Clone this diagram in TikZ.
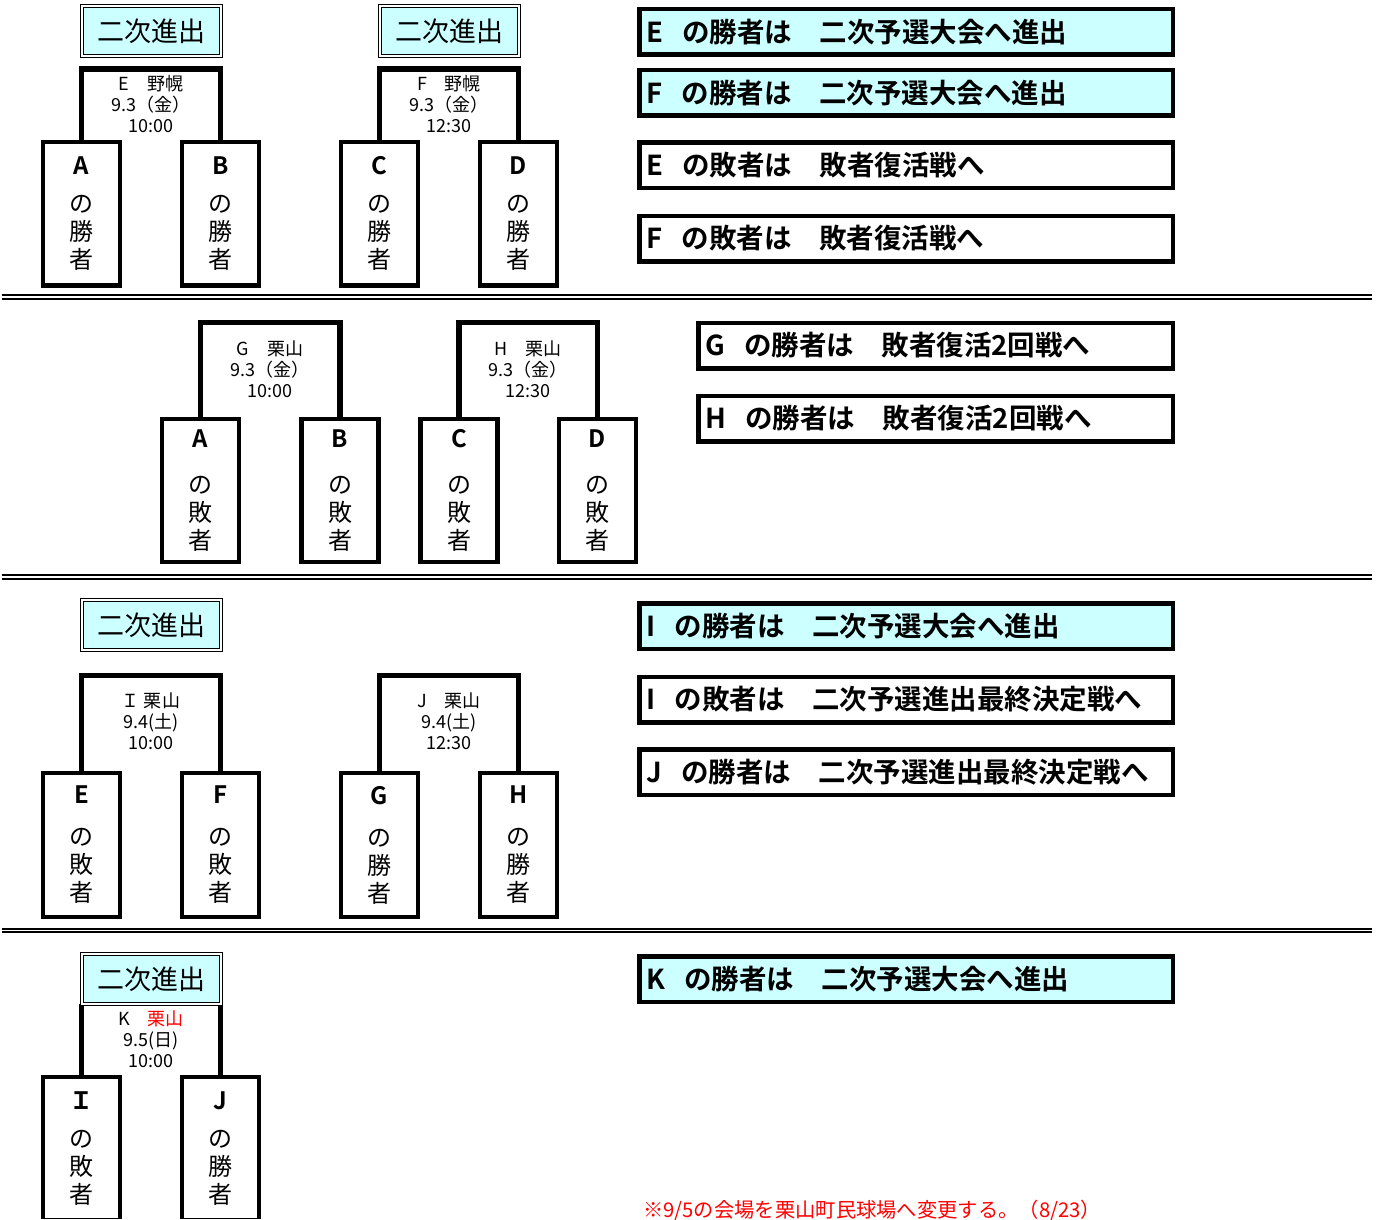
\documentclass[tikz,border=0pt]{standalone}
\usepackage{fontspec}
\setmainfont{Noto Sans CJK JP}[BoldFont={Noto Sans CJK JP Bold}]
\usetikzlibrary{positioning,calc}
\definecolor{lightcyan}{RGB}{204,255,255}

\newcommand{\winner}[2][10pt]{\textbf{#2}\\[#1]の\\勝\\者}
\newcommand{\loser}[2][10pt]{\textbf{#2}\\[#1]の\\敗\\者}
\newcommand{\gapa}{\hspace{0.7em}}
\newcommand{\gapb}{\hspace{1em}}

\begin{document}
\begin{tikzpicture}[x=1pt,y=-1pt,
  adv/.style={draw, line width=1.3pt, double=white, double distance=1.6pt, fill=lightcyan, minimum width=138.8pt, minimum height=49.8pt, inner sep=0pt, font=\fontsize{27}{30}\selectfont},
  team/.style={draw, line width=4.3pt, minimum width=77pt, minimum height=143.5pt, align=center, inner sep=0pt, font=\fontsize{24}{28}\selectfont},
  bracket/.style={line width=5.5pt},
  match/.style={align=center, inner sep=0pt, font=\fontsize{18}{21}\selectfont},
  result/.style={draw, line width=4.5pt, minimum height=45.5pt, anchor=west, inner xsep=7pt, inner ysep=0pt, align=left, text width=#1, font=\bfseries\fontsize{27.5}{30}\selectfont},
  cyanbox/.style={fill=lightcyan},
  sep/.style={line width=2pt}]
    \useasboundingbox (0,0) rectangle (1377,1220);

    % first round: E and F
    \node [adv] (adv1) at (151.5,31) {二次進出};
    \node [adv] (adv2) at (449.5,31) {二次進出};

    \node [team] (A1) at (81.4,213.75) {\winner{A}};
    \node [team] (B1) at (220.4,213.75) {\winner{B}};
    \node [team] (C1) at (379.5,213.75) {\winner{C}};
    \node [team] (D1) at (518.5,213.75) {\winner{D}};

    \coordinate (tE) at (151,69);
    \coordinate (tF) at (449,69);
    \node [match] (mE) at (151,104) {E　野幌\\9.3（金）\\10:00};
    \node [match] (mF) at (449,104) {F　野幌\\9.3（金）\\12:30};

    \draw[bracket] (A1.north) |- (tE) -| (B1.north);
    \draw[bracket] (C1.north) |- (tF) -| (D1.north);

    \node [result=519.5pt, cyanbox] (rE1) at (637,32) {E\gapa の勝者は\gapb 二次予選大会へ進出};
    \node [result=519.5pt, cyanbox] (rF1) at (637,93) {F\gapa の勝者は\gapb 二次予選大会へ進出};
    \node [result=519.5pt] (rE2) at (637,165.5) {E\gapa の敗者は\gapb 敗者復活戦へ};
    \node [result=519.5pt] (rF2) at (637,238.5) {F\gapa の敗者は\gapb 敗者復活戦へ};

    \draw[sep] (2,295) -- (1372,295);
    \draw[sep] (2,298.7) -- (1372,298.7);

    % losers: G and H
    \node [team] (A2) at (200.5,490.5) {\loser[18pt]{A}};
    \node [team] (B2) at (340,490.5) {\loser[18pt]{B}};
    \node [team] (C2) at (459,490.5) {\loser[18pt]{C}};
    \node [team] (D2) at (597.5,490.5) {\loser[18pt]{D}};

    \coordinate (tG) at (270,322.5);
    \coordinate (tH) at (528,322.5);
    \node [match] (mG) at (270,369) {G　栗山\\9.3（金）\\10:00};
    \node [match] (mH) at (528,369) {H　栗山\\9.3（金）\\12:30};

    \draw[bracket] (A2.north) |- (tG) -| (B2.north);
    \draw[bracket] (C2.north) |- (tH) -| (D2.north);

    \node [result=460.5pt] (rG) at (696,345.5) {G\gapa の勝者は\gapb 敗者復活2回戦へ};
    \node [result=460.5pt] (rH) at (696,418.5) {H\gapa の勝者は\gapb 敗者復活2回戦へ};

    \draw[sep] (2,575) -- (1372,575);
    \draw[sep] (2,578.7) -- (1372,578.7);

    % second round: I and J
    \node [adv] (adv3) at (151.5,625) {二次進出};

    \node [team] (E3) at (81.4,845) {\loser[14pt]{E}};
    \node [team] (F3) at (220.4,845) {\loser[14pt]{F}};
    \node [team] (G3) at (379.5,845) {\winner[14pt]{G}};
    \node [team] (H3) at (518.5,845) {\winner[14pt]{H}};

    \coordinate (tI) at (151,675.5);
    \coordinate (tJ) at (449,675.5);
    \node [match] (mI) at (151,721.5) {Ｉ 栗山\\9.4(土)\\10:00};
    \node [match] (mJ) at (449,721.5) {J　栗山\\9.4(土)\\12:30};

    \draw[bracket] (E3.north) |- (tI) -| (F3.north);
    \draw[bracket] (G3.north) |- (tJ) -| (H3.north);

    \node [result=519.5pt, cyanbox] (rI1) at (637,626) {I\gapa の勝者は\gapb 二次予選大会へ進出};
    \node [result=519.5pt] (rI2) at (637,699.5) {I\gapa の敗者は\gapb 二次予選進出最終決定戦へ};
    \node [result=519.5pt] (rJ) at (637,772) {J\gapa の勝者は\gapb 二次予選進出最終決定戦へ};

    \draw[sep] (2,928.7) -- (1372,928.7);
    \draw[sep] (2,932) -- (1372,932);

    % final: K
    \begin{scope}
      \clip (0,0) rectangle (1377,1218);
      \node [team] (I4) at (81.4,1148.75) {\loser{Ｉ}};
      \node [team] (J4) at (220.4,1148.75) {\winner{J}};
    \end{scope}

    \node [match] (mK) at (151,1039) {K　\textcolor{red}{栗山}\\9.5(日)\\10:00};
    \draw[bracket] (I4.north) -- (I4.north |- 0,1004);
    \draw[bracket] (J4.north) -- (J4.north |- 0,1004);
    \node [adv] (adv4) at (151.5,979) {二次進出};

    \node [result=519.5pt, cyanbox] (rK) at (637,979) {K\gapa の勝者は\gapb 二次予選大会へ進出};

    \node [anchor=west, text=red, inner sep=0pt, font=\fontsize{20.3}{22}\selectfont] (note) at (643,1211) {※9/5の会場を栗山町民球場へ変更する。（8/23）};
\end{tikzpicture}
\end{document}
